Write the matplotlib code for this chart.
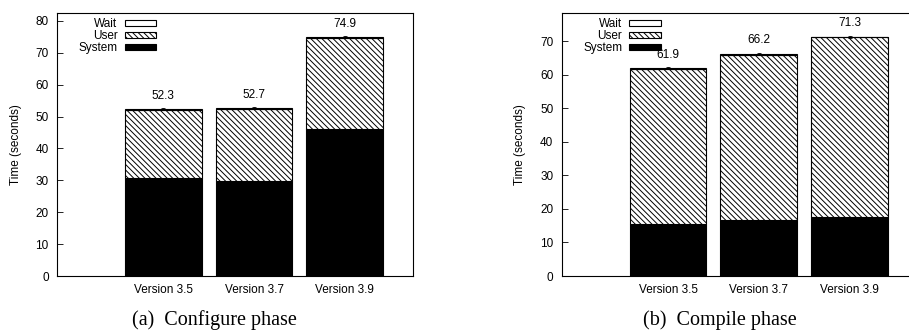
import numpy as np
import matplotlib
matplotlib.use('Agg')
from matplotlib import pyplot as plt

#Data
versions = ['Version 3.5', 'Version 3.7', 'Version 3.9']
configure_system = [30.6, 29.7, 46.2]
configure_total = [52.3, 52.7, 74.9]
configure_wait = [0.2, 0.2, 0.2]
compile_system = [15.4, 16.6, 17.6]
compile_total = [61.9, 66.2, 71.3]
compile_wait = [0.2, 0.2, 0.2]
captions = ['(a)  Configure phase', '(b)  Compile phase']

plt.rcParams['font.family'] = ['Liberation Sans', 'DejaVu Sans']
plt.rcParams['font.size'] = 8.5
plt.rcParams['hatch.linewidth'] = 0.7

fig = plt.figure(figsize=(9.09, 3.30), dpi=100)
ax_a = fig.add_axes([0.0627, 0.1636, 0.3916, 0.797])
ax_b = fig.add_axes([0.618, 0.1636, 0.3916, 0.797])


def draw_panel(ax, system, total, wait, ymax, yticks, caption):
	x = np.arange(1, len(versions) + 1)
	system = np.array(system)
	total = np.array(total)
	wait = np.array(wait)
	user = total - wait - system
	w = 0.846
	ax.bar(x, system, w, color='black', edgecolor='black', linewidth=0.8, label='System')
	ax.bar(x, user, w, bottom=system, color='white', edgecolor='black',
		hatch='\\' * 6, linewidth=0.8, label='User')
	ax.bar(x, wait, w, bottom=system + user, color='white', edgecolor='black',
		linewidth=0.8, label='Wait', yerr=0.3, capsize=1.5,
		error_kw=dict(elinewidth=0.6, capthick=0.6, ecolor='black'))
	for xi, t in zip(x, total):
		ax.text(xi, t + 2.3, '%.1f' % t, ha='center', va='bottom', fontsize=8.5)
	ax.set_xlim(-0.17, 3.75)
	ax.set_ylim(0, ymax)
	ax.set_yticks(yticks)
	ax.set_xticks(x)
	ax.set_xticklabels(versions)
	ax.tick_params(axis='y', direction='in', length=4, width=0.6, pad=6)
	ax.tick_params(axis='x', length=0, pad=6)
	for s in ax.spines.values():
		s.set_linewidth(0.8)
	ax.set_ylabel('Time (seconds)', fontsize=8.5, labelpad=10)
	handles, labels = ax.get_legend_handles_labels()
	ax.legend(handles[::-1], labels[::-1], loc='upper left', frameon=False,
		markerfirst=False, handlelength=2.7, handleheight=0.5,
		labelspacing=0.0, handletextpad=0.6, borderaxespad=0.2,
		bbox_to_anchor=(0.04, 1.007), fontsize=8.5)
	ax.text(0.443, -0.167, caption, transform=ax.transAxes, ha='center', va='center',
		fontsize=14.5, family='Liberation Serif')


draw_panel(ax_a, configure_system, configure_total, configure_wait, 82.5,
	list(range(0, 81, 10)), captions[0])
draw_panel(ax_b, compile_system, compile_total, compile_wait, 78.4,
	list(range(0, 71, 10)), captions[1])

fig.savefig('out.png', dpi=100)
